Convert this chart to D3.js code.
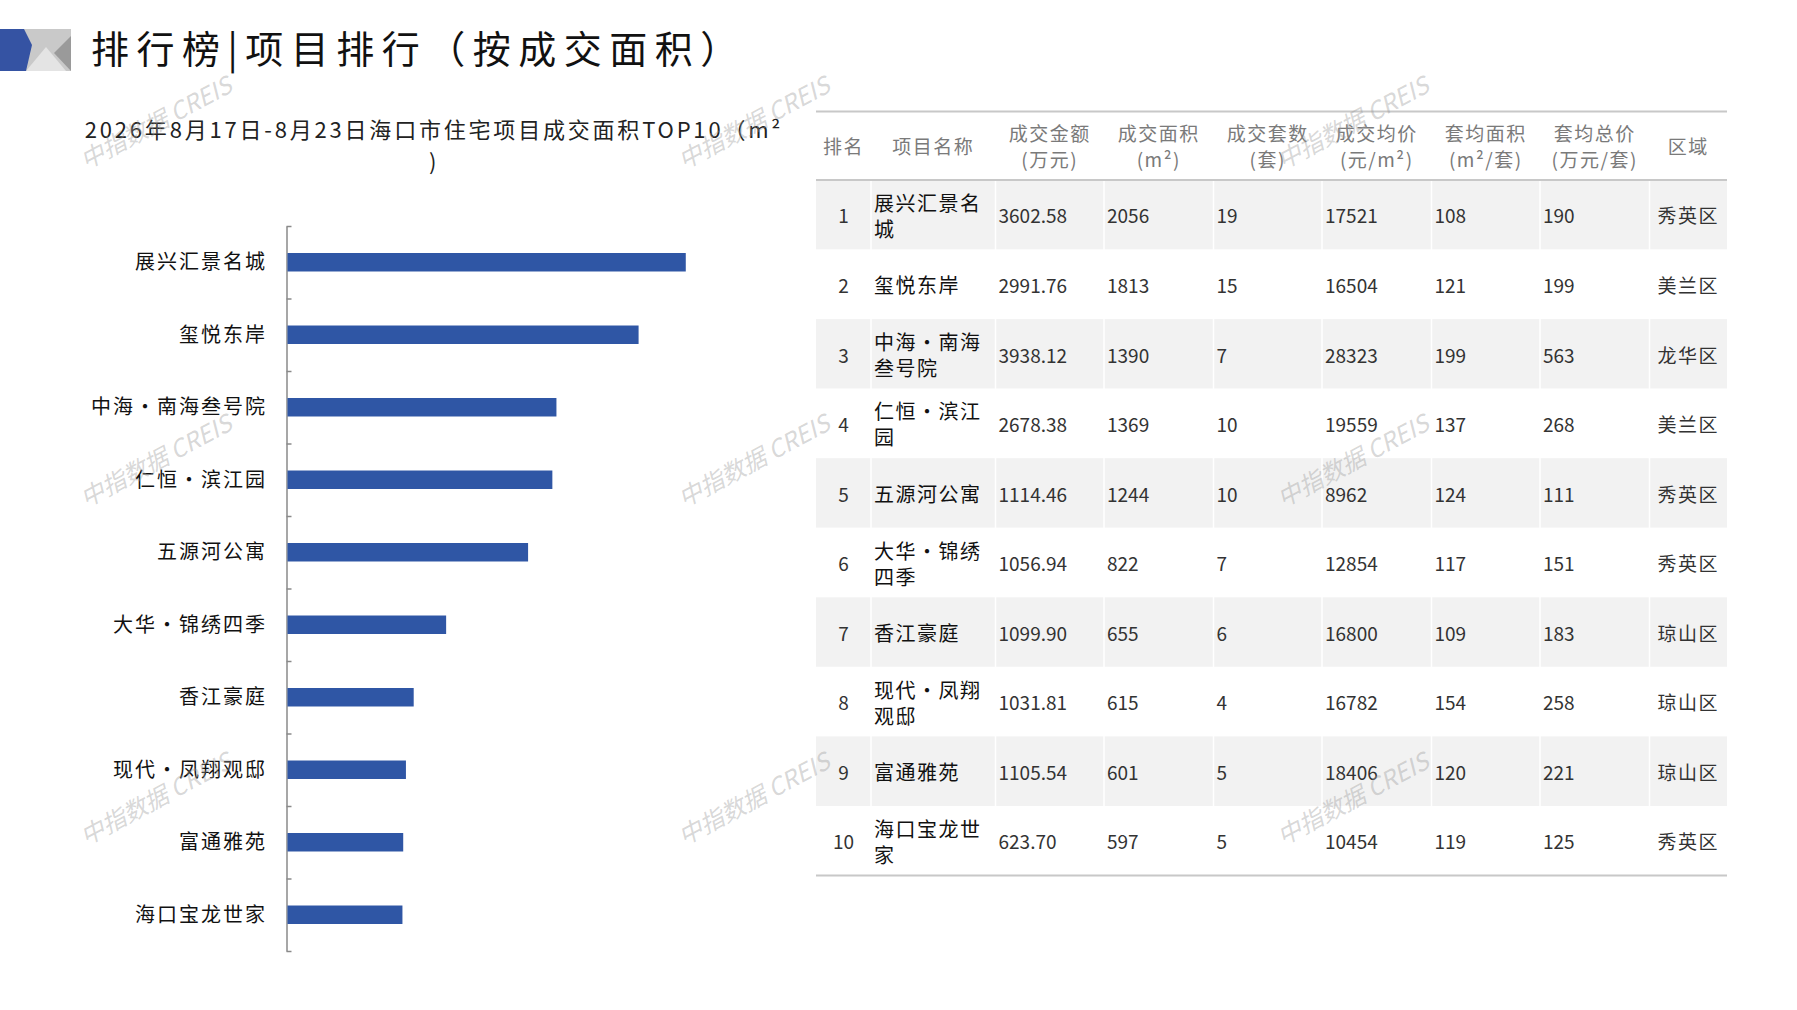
<!DOCTYPE html>
<html>
<head>
<meta charset="utf-8">
<script src="https://cdn.jsdelivr.net/npm/d3@7"></script>
<style>
  body { margin: 0; background: #fff; }
  svg { display: block; font-family: "Noto Sans CJK SC", "Noto Sans", sans-serif; }
</style>
</head>
<body>
<svg id="chart"></svg>
<script>
// project names, ranked by transaction area
var names = ["展兴汇景名城", "玺悦东岸", "中海•南海叁号院", "仁恒•滨江园", "五源河公寓",
             "大华•锦绣四季", "香江豪庭", "现代•凤翔观邸", "富通雅苑", "海口宝龙世家"];
var amount = [3602.58, 2991.76, 3938.12, 2678.38, 1114.46, 1056.94, 1099.90, 1031.81, 1105.54, 623.70];
var area = [2056, 1813, 1390, 1369, 1244, 822, 655, 615, 601, 597];
var units = [19, 15, 7, 10, 10, 7, 6, 4, 5, 5];
var price = [17521, 16504, 28323, 19559, 8962, 12854, 16800, 16782, 18406, 10454];
var avgArea = [108, 121, 199, 137, 124, 117, 109, 154, 120, 119];
var avgTotal = [190, 199, 563, 268, 111, 151, 183, 258, 221, 125];
var district = ["秀英区", "美兰区", "龙华区", "美兰区", "秀英区", "秀英区", "琼山区", "琼山区", "琼山区", "秀英区"];

var headers = [["排名"], ["项目名称"], ["成交金额", "(万元)"], ["成交面积", "(m²)"], ["成交套数", "(套)"],
               ["成交均价", "(元/m²)"], ["套均面积", "(m²/套)"], ["套均总价", "(万元/套)"], ["区域"]];

var pageTitle = "排行榜|项目排行（按成交面积）";
var chartTitle = ["2026年8月17日-8月23日海口市住宅项目成交面积TOP10（m²", ")"];

var W = 1797, H = 1010;
var svg = d3.select("#chart").attr("width", W).attr("height", H);

// ---- logo block ----
var logo = svg.append("g");
logo.append("rect").attr("x", 0).attr("y", 29).attr("width", 71).attr("height", 42).attr("fill", "#c9c9c9");
logo.append("path").attr("d", "M26,71 L46,47 L66,71 Z").attr("fill", "#e4e4e4");
logo.append("path").attr("d", "M71,36 L54,53 L71,71 Z").attr("fill", "#9a9a9a");
logo.append("path").attr("d", "M0,29 L24,29 L32,45 L26,71 L0,71 Z").attr("fill", "#3553a3");

svg.append("text")
  .attr("x", 91).attr("y", 63)
  .attr("font-size", 38).attr("letter-spacing", 7.5)
  .attr("fill", "#111")
  .text(pageTitle);

// ---- bar chart ----
svg.append("g").selectAll("text")
  .data(chartTitle)
  .join("text")
  .attr("x", 434).attr("y", (d, i) => 138 + i * 32)
  .attr("text-anchor", "middle")
  .attr("font-size", 22).attr("letter-spacing", 2.8)
  .attr("fill", "#222")
  .text(d => d);

var x = d3.scaleLinear().domain([0, 2500]).range([286.5, 772]);
var y = d3.scaleBand().domain(names).range([226, 951]).paddingInner(0.745).paddingOuter(0.3725);
var tickScale = d3.scaleLinear().domain([0, names.length]).range([226, 951]);

svg.append("g")
  .attr("transform", "translate(286.5,0)")
  .call(d3.axisRight(tickScale).tickValues(d3.range(names.length + 1))
    .tickSize(5).tickSizeOuter(0).tickFormat(""))
  .call(g => g.selectAll("path, line").attr("stroke", "#8a8a8a").attr("stroke-width", 1.5));

svg.append("g").selectAll("rect")
  .data(names)
  .join("rect")
  .attr("x", x(0) + 1)
  .attr("y", d => y(d))
  .attr("width", (d, i) => x(area[i]) - x(0) - 1)
  .attr("height", y.bandwidth())
  .attr("fill", "#2f56a5");

svg.append("g").selectAll("text")
  .data(names)
  .join("text")
  .attr("x", 267)
  .attr("y", d => y(d) + y.bandwidth() / 2)
  .attr("dy", "0.35em")
  .attr("text-anchor", "end")
  .attr("font-size", 20).attr("letter-spacing", 2)
  .attr("fill", "#111")
  .text(d => d);

// ---- table ----
var colW = [55, 124.5, 108.5, 109.5, 108.5, 109.5, 108.5, 109.5, 77.5];
var colX = [816];
colW.forEach(w => colX.push(colX[colX.length - 1] + w));
var headTop = 111.5, headBottom = 180, tableBottom = 875.5;
var rowY = d3.scaleBand().domain(d3.range(names.length)).range([headBottom, tableBottom]);

var table = svg.append("g");

table.selectAll("rect.row")
  .data(d3.range(names.length))
  .join("rect")
  .attr("class", "row")
  .attr("x", colX[0]).attr("y", i => rowY(i))
  .attr("width", colX[9] - colX[0]).attr("height", rowY.bandwidth())
  .attr("fill", i => i % 2 === 0 ? "#f2f2f2" : "#fff");

// thin white cell separators
table.selectAll("line.sep")
  .data(colX.slice(1, 9))
  .join("line")
  .attr("class", "sep")
  .attr("x1", d => d).attr("x2", d => d)
  .attr("y1", headBottom).attr("y2", tableBottom)
  .attr("stroke", "#fff").attr("stroke-width", 1.5);

[headTop, headBottom, tableBottom].forEach(function (yy) {
  table.append("line")
    .attr("x1", colX[0]).attr("x2", colX[9])
    .attr("y1", yy).attr("y2", yy)
    .attr("stroke", "#c8c8c8").attr("stroke-width", 2);
});

headers.forEach(function (lines, c) {
  var cx = (colX[c] + colX[c + 1]) / 2;
  var cy = (headTop + headBottom) / 2 + 2;
  table.append("g").selectAll("text")
    .data(lines)
    .join("text")
    .attr("x", cx)
    .attr("y", (d, i) => cy + (i - (lines.length - 1) / 2) * 26)
    .attr("dy", "0.35em")
    .attr("text-anchor", "middle")
    .attr("font-size", 19).attr("letter-spacing", 1.5)
    .attr("fill", "#7a7a7a")
    .text(d => d);
});

var cells = names.map((n, i) => [String(i + 1), n, amount[i].toFixed(2), String(area[i]), String(units[i]),
  String(price[i]), String(avgArea[i]), String(avgTotal[i]), district[i]]);

cells.forEach(function (row, r) {
  var cy = rowY(r) + rowY.bandwidth() / 2 + 2;
  row.forEach(function (val, c) {
    var lines = c === 1 && val.length > 5 ? [val.slice(0, 5), val.slice(5)] : [val];
    var anchor = (c === 0 || c === 8) ? "middle" : "start";
    var tx = anchor === "middle" ? (colX[c] + colX[c + 1]) / 2 : colX[c] + 3;
    table.append("g").selectAll("text")
      .data(lines)
      .join("text")
      .attr("x", tx)
      .attr("y", (d, i) => cy + (i - (lines.length - 1) / 2) * 26)
      .attr("dy", "0.35em")
      .attr("text-anchor", anchor)
      .attr("font-size", c === 1 ? 20 : 19)
      .attr("letter-spacing", c === 1 || c === 8 ? 1.5 : 0)
      .attr("fill", c === 1 ? "#111" : "#333")
      .text(d => d);
  });
});

// ---- watermarks ----
var wmX = [156, 754, 1353], wmY = [123, 461, 799];
var wm = svg.append("g").attr("pointer-events", "none");
wmY.forEach(function (wy) {
  wmX.forEach(function (wx) {
    wm.append("text")
      .attr("transform", "translate(" + wx + "," + wy + ") rotate(-28)")
      .attr("text-anchor", "middle").attr("dy", "0.35em")
      .attr("font-size", 24).attr("font-style", "italic")
      .attr("fill", "#9a9a9a").attr("fill-opacity", 0.4)
      .text("中指数据 CREIS");
  });
});
</script>
</body>
</html>
